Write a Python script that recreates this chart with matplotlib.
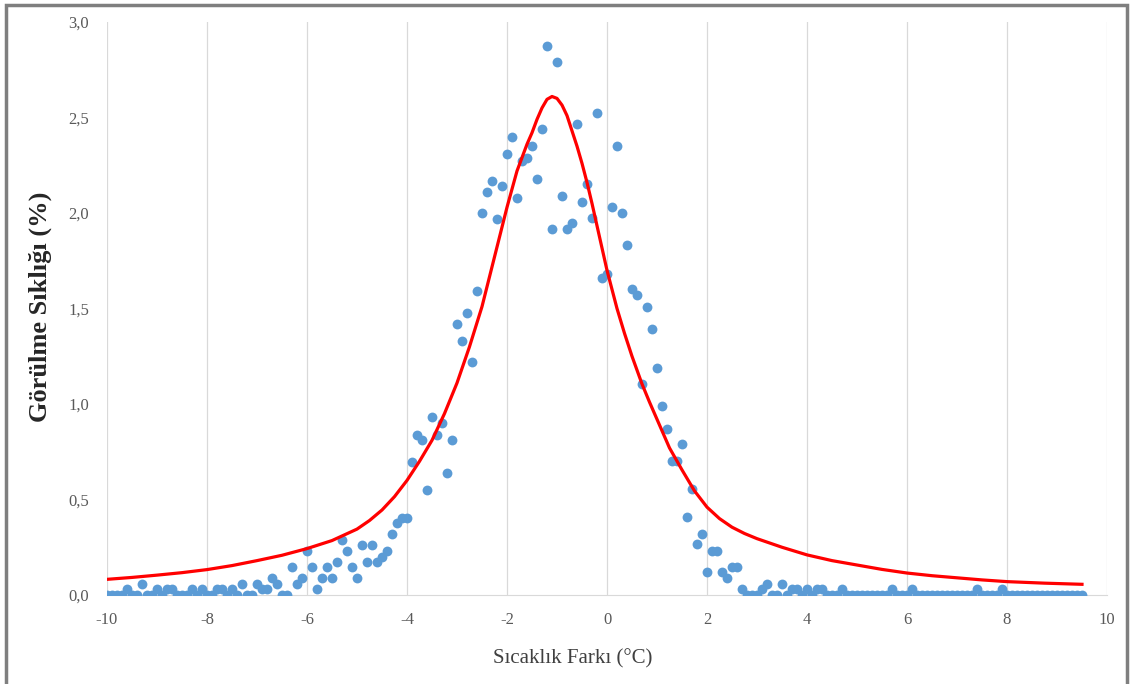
import numpy as np
import matplotlib
matplotlib.use("Agg")
import matplotlib.pyplot as plt
from matplotlib.patches import Rectangle
from matplotlib.ticker import FuncFormatter

#====================1======================
#               data
#===========================================
# observed frequency, x from -10.0 in steps of 0.1 (one row = 1 degC)
x_start, x_step = -10.0, 0.1
freq = [
    0, 0, 0, 0, 0.03, 0, 0, 0.06, 0, 0,                          # -10.0 .. -9.1
    0.03, 0, 0.03, 0.03, 0, 0, 0, 0.03, 0, 0.03,                 # -9.0 .. -8.1
    0, 0, 0.03, 0.03, 0, 0.03, 0, 0.06, 0, 0,                    # -8.0 .. -7.1
    0.06, 0.03, 0.03, 0.09, 0.06, 0, 0, 0.145, 0.06, 0.09,       # -7.0 .. -6.1
    0.23, 0.145, 0.03, 0.09, 0.145, 0.09, 0.175, 0.29, 0.23, 0.145,   # -6.0 .. -5.1
    0.087, 0.26, 0.175, 0.26, 0.175, 0.2, 0.23, 0.32, 0.377, 0.405,   # -5.0 .. -4.1
    0.405, 0.695, 0.84, 0.81, 0.55, 0.93, 0.84, 0.9, 0.64, 0.81,      # -4.0 .. -3.1
    1.42, 1.33, 1.475, 1.22, 1.59, 2.0, 2.11, 2.17, 1.97, 2.14,       # -3.0 .. -2.1
    2.31, 2.40, 2.08, 2.27, 2.29, 2.35, 2.18, 2.44, 2.875, 1.915,     # -2.0 .. -1.1
    2.79, 2.09, 1.915, 1.946, 2.466, 2.06, 2.15, 1.975, 2.525, 1.66,  # -1.0 .. -0.1
    1.68, 2.03, 2.35, 2.0, 1.83, 1.6, 1.57, 1.105, 1.51, 1.395,       #  0.0 .. 0.9
    1.19, 0.99, 0.87, 0.70, 0.70, 0.79, 0.41, 0.553, 0.265, 0.32,     #  1.0 .. 1.9
    0.12, 0.23, 0.23, 0.12, 0.087, 0.148, 0.148, 0.03, 0, 0,          #  2.0 .. 2.9
    0, 0.03, 0.06, 0, 0, 0.06, 0, 0.03, 0.03, 0,                      #  3.0 .. 3.9
    0.03, 0, 0.03, 0.03, 0, 0, 0, 0.03, 0, 0,                         #  4.0 .. 4.9
    0, 0, 0, 0, 0, 0, 0, 0.03, 0, 0,                                  #  5.0 .. 5.9
    0, 0.03, 0, 0, 0, 0, 0, 0, 0, 0,                                  #  6.0 .. 6.9
    0, 0, 0, 0, 0.03, 0, 0, 0, 0, 0.03,                               #  7.0 .. 7.9
    0, 0, 0, 0, 0, 0, 0, 0, 0, 0,                                     #  8.0 .. 8.9
    0, 0, 0, 0, 0, 0,                                                 #  9.0 .. 9.5
]
x_obs = np.round(x_start + x_step*np.arange(len(freq)), 1)

# fitted curve
fit_x = [-10, -9.5, -9, -8.5, -8, -7.5, -7, -6.5, -6, -5.5, -5, -4.75, -4.5, -4.25,
         -4, -3.75, -3.5, -3.25, -3, -2.75, -2.5, -2.25, -2, -1.8, -1.6, -1.5, -1.4,
         -1.3, -1.2, -1.1, -1.0, -0.9, -0.8, -0.7, -0.6, -0.5, -0.4, -0.3, -0.15, 0,
         0.2, 0.35, 0.5, 0.7, 0.85, 1.0, 1.25, 1.5, 1.75, 2.0, 2.25, 2.5, 2.75, 3.0,
         3.5, 4.0, 4.5, 5.0, 5.5, 6.0, 6.5, 7.0, 7.5, 8.0, 8.75, 9.5]
fit_y = [0.082, 0.092, 0.104, 0.117, 0.133, 0.154, 0.180, 0.208, 0.243, 0.285, 0.345,
         0.39, 0.445, 0.515, 0.60, 0.70, 0.81, 0.95, 1.11, 1.30, 1.51, 1.77, 2.03,
         2.22, 2.36, 2.42, 2.49, 2.55, 2.595, 2.61, 2.60, 2.565, 2.51, 2.43, 2.35,
         2.26, 2.16, 2.05, 1.875, 1.70, 1.50, 1.37, 1.25, 1.105, 1.01, 0.92, 0.77,
         0.655, 0.545, 0.46, 0.40, 0.355, 0.322, 0.295, 0.25, 0.21, 0.18, 0.157,
         0.134, 0.115, 0.101, 0.09, 0.079, 0.07, 0.062, 0.056]

x_ticks = [-10, -8, -6, -4, -2, 0, 2, 4, 6, 8, 10]
y_ticks = [0, 0.5, 1.0, 1.5, 2.0, 2.5, 3.0]

#====================2======================
#          plot
#===========================================
plt.rcParams['font.family'] = ['Liberation Serif', 'DejaVu Serif']
plt.rcParams['axes.unicode_minus'] = False
fig = plt.figure(figsize=(11.32, 6.84), dpi=100)
ax = fig.add_axes([107/1132, 1 - 595/684, 1000/1132, 573/684])

ax.grid(axis='x', color='#d9d9d9', lw=0.9)
ax.set_axisbelow(True)
ax.scatter(x_obs, freq, s=50, color='#5b9bd5', zorder=2, linewidths=0)
ax.plot(fit_x, fit_y, color='#ff0000', lw=2.3, zorder=3, solid_joinstyle='round')

ax.set_xlim(-10, 10)
ax.set_ylim(0, 3.0)
ax.set_xticks(x_ticks)
ax.set_yticks(y_ticks)
ax.yaxis.set_major_formatter(FuncFormatter(lambda v, p: f"{v:.1f}".replace('.', ',')))
ax.tick_params(length=0, labelsize=12, labelcolor='#595959')
ax.tick_params(axis='y', pad=13)
ax.tick_params(axis='x', pad=12)
for side in ['top', 'right', 'left']:
    ax.spines[side].set_visible(False)
ax.spines['bottom'].set_color('#d9d9d9')
ax.spines['bottom'].set_zorder(1)

ax.set_xlabel('Sıcaklık Farkı (°C)', fontsize=15, color='#404040')
ax.set_ylabel('Görülme Sıklığı (%)', fontsize=19, fontweight='bold', color='#262626')
ax.xaxis.set_label_coords(0.466, -0.094)
ax.yaxis.set_label_coords(-0.055, 0.503)

# frame round the picture
fig.patches.append(Rectangle((6/1132, -0.05), 1121/1132, 1.05 - 5/684,
                             transform=fig.transFigure, fill=False,
                             ec='#7f7f7f', lw=2.5))

fig.savefig('out.png', dpi=100)
